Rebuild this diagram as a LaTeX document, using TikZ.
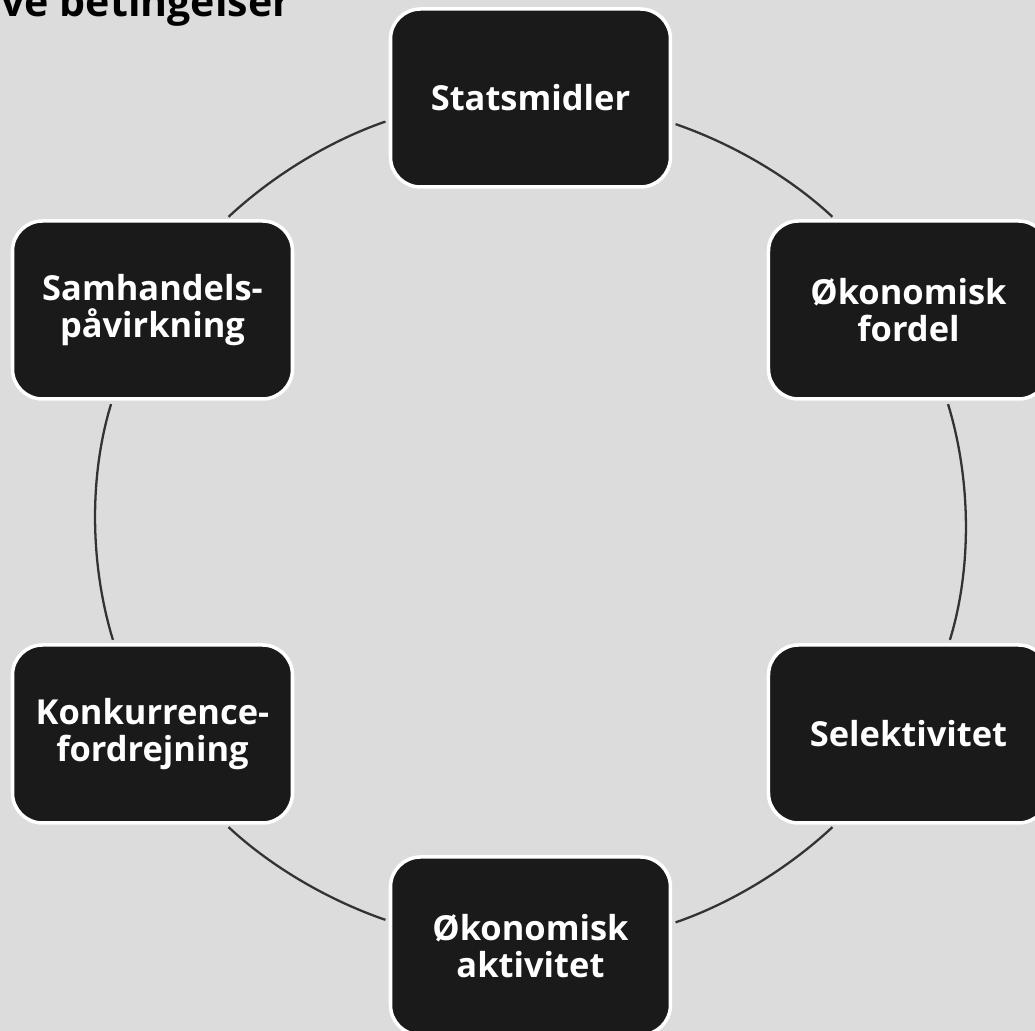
\documentclass[tikz,border=0pt]{standalone}
\usepackage{fontspec}
\setmainfont{Open Sans}
\usetikzlibrary{backgrounds}
\definecolor{bg}{RGB}{220,220,220}
\definecolor{boxfill}{RGB}{26,26,26}
\tikzstyle{graph}=[line width=0.6pt, draw=black!80]
\tikzstyle{box}=[rectangle, rounded corners=0.3cm, draw=white, line width=1pt, fill=boxfill, text=white, align=center, font=\bfseries\fontsize{9.8}{10.4}\selectfont, minimum width=2.80cm, minimum height=1.78cm]
\tikzstyle{ttl}=[anchor=base west, inner sep=0pt, font=\bfseries\fontsize{11.7}{13}\selectfont]
\tikzstyle{ring}=[line width=0.65pt, draw=black!80, looseness=0.85, shorten >=1pt, shorten <=1pt]

\begin{document}
\begin{tikzpicture}[graph]
	\fill[bg] (-5.305,-5.09) rectangle (5.045,5.22);
	\useasboundingbox (-5.305,-5.09) rectangle (5.045,5.22);
	\draw (-5.30,5.05) node[ttl] (title) {ve betingelser};
	\draw (0,4.24) node[box] (stat) {Statsmidler};
	\draw (3.78,2.12) node[box] (fordel) {Økonomisk\\fordel};
	\draw (3.78,-2.12) node[box] (selekt) {Selektivitet};
	\draw (0,-4.24) node[box] (aktiv) {Økonomisk\\aktivitet};
	\draw (-3.78,-2.12) node[box] (konk) {Konkurrence-\\fordrejning};
	\draw (-3.78,2.12) node[box] (samh) {Samhandels-\\påvirkning};
	\draw[ring] (stat.189.4) to[out=199, in=43] (samh.51);
	\draw[ring] (samh.246.5) to[out=253, in=107] (konk.113.5);
	\draw[ring] (konk.309) to[out=317, in=161] (aktiv.170.6);
	\draw[ring] (aktiv.9.4) to[out=19, in=223] (selekt.231);
	\draw[ring] (selekt.66.5) to[out=73, in=287] (fordel.293.5);
	\draw[ring] (fordel.129) to[out=137, in=341] (stat.350.6);
\end{tikzpicture}
\end{document}
